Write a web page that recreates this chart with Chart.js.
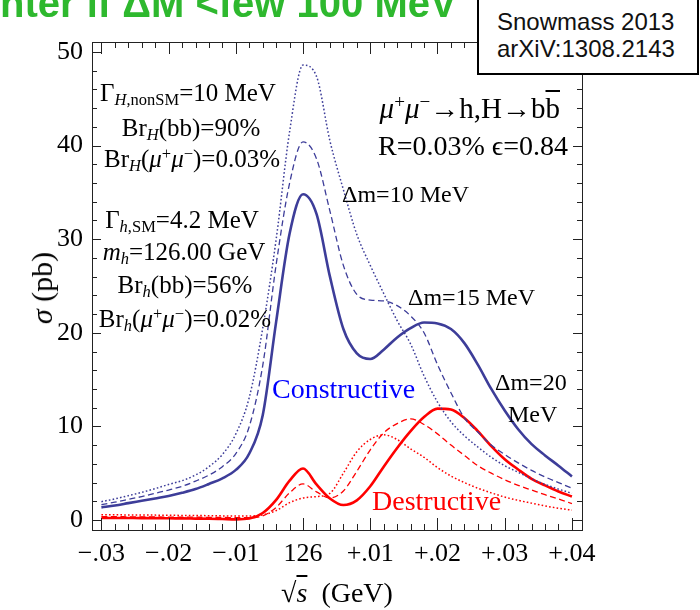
<!DOCTYPE html>
<html>
<head>
<meta charset="utf-8">
<script src="https://cdn.jsdelivr.net/npm/chart.js@4.4.0/dist/chart.umd.min.js"></script>
<style>
  html, body { margin: 0; padding: 0; background: #fff; }
  #wrap { position: relative; width: 700px; height: 610px; overflow: hidden; }
  #plot { position: absolute; left: 0; top: 0; }
  .t { position: absolute; font-family: 'Liberation Serif', 'Times New Roman', serif; color: #000; white-space: nowrap; line-height: 1; }
  .t sub, .t sup { font-size: 66%; line-height: 0; }
  .t sub { vertical-align: -0.25em; }
  .t sup { vertical-align: 0.5em; }
  #banner { position: absolute; left: 0px; top: -17px; font: bold 40px 'Liberation Sans', Arial, sans-serif; color: #2eb82e; white-space: nowrap; line-height: 1; }
  #ref { position: absolute; left: 477px; top: -2px; width: 200px; height: 73px; border: 2px solid #000; background: #fff;
         font: 24px 'Liberation Sans', Arial, sans-serif; color: #111; padding: 0 0 0 18px; line-height: 27px; }
</style>
</head>
<body>
<div id="wrap">
  <canvas id="plot" width="700" height="610"></canvas>
  <div id="banner">nter if ΔM &lt;few 100 MeV</div>
  <div id="ref"><div style="margin-top:8px">Snowmass 2013</div><div>arXiV:1308.2143</div></div>
</div>
<script>
// energy offset from 126 GeV (GeV)
const xs = [-0.030, -0.028, -0.026, -0.024, -0.022, -0.020, -0.018, -0.016, -0.014, -0.012,
            -0.010, -0.008, -0.006, -0.004, -0.002, 0.000, 0.002, 0.004, 0.006, 0.008,
             0.010, 0.012, 0.014, 0.016, 0.018, 0.020, 0.022, 0.024, 0.026, 0.028,
             0.030, 0.032, 0.034, 0.036, 0.038, 0.040];

// constructive interference, sigma in pb
const cons10 = [1.96, 2.25, 2.6, 2.95, 3.35, 3.8, 4.2, 4.8, 5.7, 7.0,
                9.2, 13.1, 20.5, 30.0, 41.5, 48.6, 47.4, 40.5, 35.3, 30.5,
                27.2, 24.2, 21.3, 18.8, 15.4, 12.6, 10.5, 9.0, 7.8, 6.7,
                5.8, 5.1, 4.4, 3.8, 3.3, 2.85];
const cons15 = [1.65, 1.9, 2.2, 2.5, 2.85, 3.2, 3.6, 4.15, 4.8, 5.7,
                7.1, 10.0, 16.5, 27.3, 36.0, 40.4, 38.6, 33.0, 27.2, 24.1,
                23.5, 23.4, 22.9, 21.8, 20.0, 16.6, 13.6, 10.9, 9.4, 8.0,
                7.0, 6.1, 5.3, 4.6, 4.0, 3.4];
const cons20 = [1.35, 1.55, 1.8, 2.05, 2.3, 2.56, 2.9, 3.3, 3.85, 4.45,
                5.35, 7.1, 11.2, 21.2, 30.6, 34.8, 32.7, 26.0, 20.4, 17.8,
                17.2, 18.2, 19.5, 20.5, 21.1, 21.0, 20.4, 18.9, 16.6, 14.0,
                11.7, 9.7, 8.1, 6.9, 5.8, 4.65];

// destructive interference, sigma in pb
const dest10 = [0.55, 0.55, 0.54, 0.53, 0.52, 0.5, 0.49, 0.48, 0.46, 0.44,
                0.42, 0.42, 0.55, 1.0, 1.85, 2.35, 2.5, 2.85, 5.0, 7.3,
                8.6, 9.1, 8.6, 7.6, 6.7, 5.6, 4.7, 4.0, 3.4, 2.9,
                2.45, 2.1, 1.8, 1.5, 1.25, 1.05];
const dest15 = [0.35, 0.35, 0.34, 0.33, 0.32, 0.31, 0.3, 0.3, 0.28, 0.27,
                0.25, 0.25, 0.45, 1.35, 2.9, 3.85, 3.0, 2.35, 3.1, 5.2,
                7.5, 9.3, 10.3, 10.8, 10.2, 9.2, 8.0, 6.9, 5.8, 5.0,
                4.3, 3.7, 3.2, 2.7, 2.25, 1.75];
const dest20 = [0.22, 0.22, 0.21, 0.2, 0.2, 0.18, 0.17, 0.15, 0.13, 0.1,
                0.07, 0.15, 0.75, 2.15, 4.2, 5.5, 3.8, 2.3, 1.6, 2.1,
                3.6, 5.7, 7.7, 9.5, 11.0, 11.9, 11.8, 10.9, 9.5, 7.9,
                6.5, 5.4, 4.4, 3.7, 3.05, 2.5];

const yTicks = [0, 10, 20, 30, 40, 50];
const xTickText = { '-3': '−.03', '-2': '−.02', '-1': '−.01', '0': '126', '1': '+.01', '2': '+.02', '3': '+.03', '4': '+.04' };

const BLUE = '#3d3d99';
const RED = '#ff0000';
const DASH = [6, 3.5];
const DOT = [1.6, 2.2];

function series(vals, color, width, dash) {
  return {
    data: xs.map((x, i) => ({ x: x, y: vals[i] })),
    borderColor: color,
    borderWidth: width,
    borderDash: dash,
    pointRadius: 0,
    fill: false,
    cubicInterpolationMode: 'monotone'
  };
}

// frame with inward ticks on all four sides (Mathematica style)
const frameTicks = {
  id: 'frameTicks',
  afterDatasetsDraw(chart) {
    const { ctx, chartArea: a, scales: { x, y } } = chart;
    ctx.save();
    ctx.strokeStyle = '#222';
    ctx.lineWidth = 1;
    ctx.strokeRect(Math.round(a.left) + 0.5, Math.round(a.top) + 0.5, Math.round(a.right - a.left), Math.round(a.bottom - a.top));
    ctx.beginPath();
    for (let k = -15; k <= 20; k++) {
      const px = Math.round(x.getPixelForValue(k * 0.002)) + 0.5;
      const len = k % 5 === 0 ? 12 : 6;
      ctx.moveTo(px, a.bottom); ctx.lineTo(px, a.bottom - len);
      ctx.moveTo(px, a.top); ctx.lineTo(px, a.top + len);
    }
    for (let v = 0; v <= 50; v += 2) {
      const py = Math.round(y.getPixelForValue(v)) + 0.5;
      const len = v % 10 === 0 ? 9 : 5;
      ctx.moveTo(a.left, py); ctx.lineTo(a.left + len, py);
      ctx.moveTo(a.right, py); ctx.lineTo(a.right - len, py);
    }
    ctx.stroke();
    ctx.restore();
  }
};

new Chart(document.getElementById('plot'), {
  type: 'line',
  data: {
    datasets: [
      series(cons10, BLUE, 1.5, DOT),
      series(cons15, BLUE, 1.3, DASH),
      series(dest10, RED, 1.5, DOT),
      series(dest15, RED, 1.3, DASH),
      series(cons20, BLUE, 2.6, []),
      series(dest20, RED, 2.6, [])
    ]
  },
  options: {
    responsive: false,
    animation: false,
    layout: { padding: { left: 0, top: 42, right: 118, bottom: 0 } },
    plugins: { legend: { display: false }, tooltip: { enabled: false } },
    scales: {
      x: {
        type: 'linear', min: -0.0314, max: 0.0415,
        afterFit: s => { s.height = 80; },
        grid: { display: false, drawTicks: false }, border: { display: false },
        ticks: {
          stepSize: 0.01, includeBounds: false, autoSkip: false, maxRotation: 0, padding: 9,
          color: '#000', font: { family: 'Liberation Serif', size: 26 },
          callback: v => xTickText[String(Math.round(v * 100))] || ''
        }
      },
      y: {
        type: 'linear', min: -1.07, max: 51.07,
        afterFit: s => { s.width = 92; },
        grid: { display: false, drawTicks: false }, border: { display: false },
        ticks: {
          stepSize: 10, includeBounds: false, padding: 9,
          color: '#000', font: { family: 'Liberation Serif', size: 26 },
          callback: v => yTicks.includes(v) ? String(v) : ''
        }
      }
    }
  },
  plugins: [frameTicks]
});

// text annotations, placed by baseline
function place(html, x, base, size, align, color) {
  const d = document.createElement('div');
  d.className = 't';
  d.innerHTML = html;
  d.style.fontSize = size + 'px';
  d.style.left = x + 'px';
  d.style.top = (base - 0.8375 * size) + 'px';
  if (color) d.style.color = color;
  const shift = align === 'center' ? '-50%' : align === 'right' ? '-100%' : '0';
  d.style.transform = 'translateX(' + shift + ')';
  document.getElementById('wrap').insertBefore(d, document.getElementById('banner'));
  return d;
}

const mupm = '<i>μ</i><sup>+</sup><i>μ</i><sup>−</sup>';
place('Γ<sub><i>H</i>,nonSM</sub>=10 MeV', 188, 101, 25, 'center');
place('Br<sub><i>H</i></sub>(bb)=90%', 191, 136, 25, 'center');
place('Br<sub><i>H</i></sub>(' + mupm + ')=0.03%', 192, 167, 25, 'center');
place('Γ<sub><i>h</i>,SM</sub>=4.2 MeV', 182, 228, 25, 'center');
place('<i>m<sub>h</sub></i>=126.00 GeV', 184, 260, 25, 'center');
place('Br<sub><i>h</i></sub>(bb)=56%', 185, 293, 25, 'center');
place('Br<sub><i>h</i></sub>(' + mupm + ')=0.02%', 185, 327, 25, 'center');

place(mupm + '→h,H→b<span style="text-decoration:overline">b</span>', 560, 118, 29, 'right');
place('R=0.03% ϵ=0.84', 568, 155, 28, 'right');

place('Δm=10 MeV', 342, 202, 24, 'left');
place('Δm=15 MeV', 408, 305, 24, 'left');
place('Δm=20', 495, 390, 24, 'left');
place('MeV', 508, 422, 24, 'left');

place('Constructive', 272, 398, 28, 'left', '#0000ff');
place('Destructive', 372, 510, 28, 'left', '#ff0000');

// axis titles
const yt = place('<i>σ</i> (pb)', 0, 0, 30, 'left');
yt.style.left = '42px';
yt.style.top = '288px';
yt.style.transform = 'translate(-50%, -50%) rotate(-90deg)';
place('√<i style="text-decoration:overline">s</i>&nbsp; (GeV)', 337, 602, 28, 'center');
</script>
</body>
</html>
